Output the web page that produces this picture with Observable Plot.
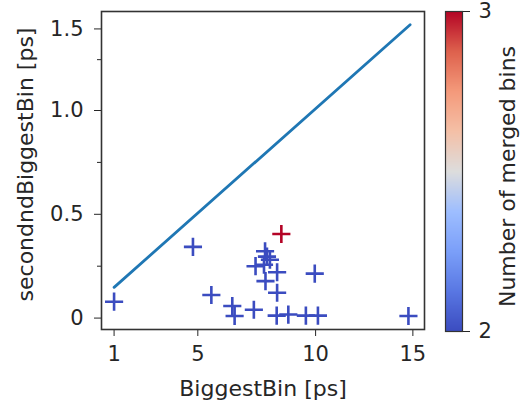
<!DOCTYPE html>
<html><head><meta charset="utf-8">
<script src="https://cdn.jsdelivr.net/npm/d3@7"></script>
<script src="https://cdn.jsdelivr.net/npm/@observablehq/plot@0.6"></script>
<style>
body{margin:0;background:#fff;}
#wrap{display:flex;width:524px;height:405px;background:#fff;}
svg{display:block}
</style></head><body><div id="wrap"></div>
<script>
// Data
const biggestBin       = [1.00, 4.73, 5.60, 6.59, 6.70, 7.61, 8.14, 8.23, 8.37, 7.69, 8.09, 8.71, 8.16, 8.71, 8.69, 9.24, 10.07, 10.64, 10.49, 14.92, 8.91];
const secondBiggestBin = [0.079, 0.343, 0.111, 0.058, 0.010, 0.040, 0.322, 0.296, 0.281, 0.250, 0.257, 0.221, 0.178, 0.122, 0.012, 0.017, 0.012, 0.012, 0.214, 0.010, 0.405];
const mergedBins       = [2, 2, 2, 2, 2, 2, 2, 2, 2, 2, 2, 2, 2, 2, 2, 2, 2, 2, 2, 2, 3];
const refLineX = [1, 15];
const refLineY = [0.148, 1.413];
const xTickValues = [1, 4.96, 10.53, 15.13];
const xTickLabels = ["1", "5", "10", "15"];
const yTickValues = [0, 0.5, 1.0, 1.393];
const yTickLabels = ["0", "0.5", "1.0", "1.5"];
const yMinorTicks = [0.25, 0.75, 1.245];
const colorTicks = [2, 3];
const colorTickLabels = ["2", "3"];
const coolwarm = ["#3b4cc0", "#5977e3", "#7b9ff9", "#9ebeff", "#dddddd", "#f4c0a7", "#f49a7b", "#de614d", "#b40426"];

const colorOpts = {type: "linear", domain: [2, 3], interpolate: d3.piecewise(d3.interpolateRgb, coolwarm)};
const style = {fontFamily: "DejaVu Sans", fontSize: "21px", color: "#262626", background: "white"};

const main = Plot.plot({
  width: 440, height: 405,
  marginLeft: 101, marginRight: 16, marginTop: 11, marginBottom: 76,
  x: {domain: [0.405, 15.68]},
  y: {domain: [-0.055, 1.477]},
  color: colorOpts,
  style,
  marks: [
    Plot.axisX(xTickValues, {tickSize: 7, tickPadding: 10, label: null,
      tickFormat: d => xTickLabels[xTickValues.indexOf(d)]}),
    Plot.axisY(yTickValues, {tickSize: 7, tickPadding: 11, label: null,
      tickFormat: d => yTickLabels[yTickValues.indexOf(d)]}),
    Plot.axisY(yMinorTicks, {tickSize: 4, label: null, tickFormat: () => ""}),
    Plot.line({length: refLineX.length}, {x: refLineX, y: refLineY, stroke: "#1f77b4", strokeWidth: 2.8}),
    Plot.dot(biggestBin, {x: biggestBin, y: secondBiggestBin, stroke: mergedBins, symbol: "plus", r: 5.9, strokeWidth: 2.6}),
    Plot.frame({stroke: "#333", strokeWidth: 1.6}),
    Plot.text(["BiggestBin [ps]"], {frameAnchor: "bottom", textAnchor: "middle", dy: 66, fontSize: 22}),
    Plot.text(["secondndBiggestBin [ps]"], {frameAnchor: "left", textAnchor: "middle", lineAnchor: "middle", rotate: -90, dx: -76, dy: -6, fontSize: 22})
  ]
});

const cbar = Plot.plot({
  width: 84, height: 405,
  marginLeft: 5, marginRight: 62, marginTop: 11, marginBottom: 74,
  x: {domain: [0, 1], axis: null},
  y: {domain: [2, 3], axis: null},
  color: colorOpts,
  style,
  marks: [
    Plot.raster({x1: 0, x2: 1, y1: 2, y2: 3, fill: (x, y) => y}),
    Plot.frame({stroke: "#333", strokeWidth: 1.2}),
    Plot.axisY(colorTicks, {anchor: "right", tickSize: 7, tickPadding: 9, label: null,
      tickFormat: d => colorTickLabels[colorTicks.indexOf(d)]}),
    Plot.text(["Number of merged bins"], {frameAnchor: "right", textAnchor: "middle", lineAnchor: "middle", rotate: -90, dx: 45, dy: 5, fontSize: 22})
  ]
});

document.getElementById("wrap").append(main, cbar);
</script></body></html>
